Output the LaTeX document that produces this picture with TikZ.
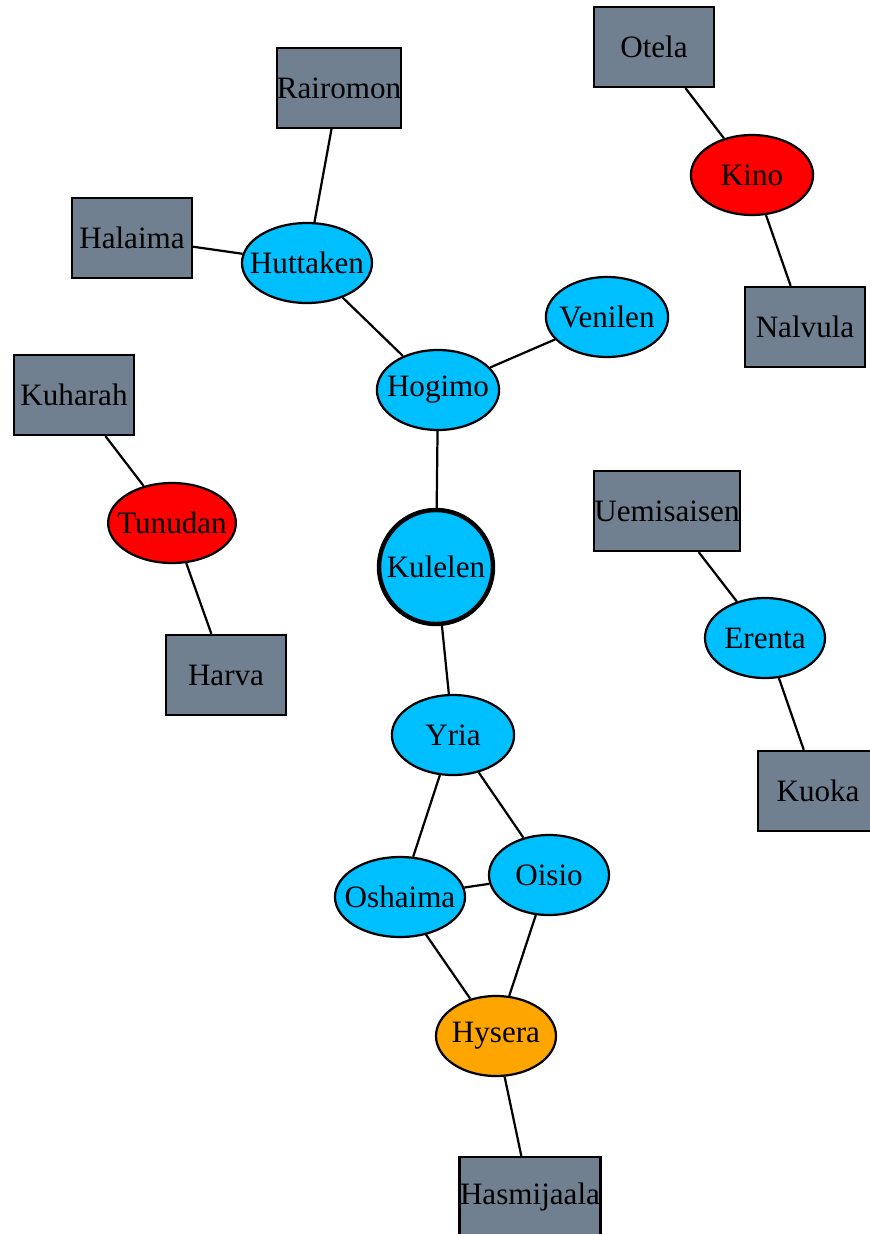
\documentclass[tikz,border=0pt]{standalone}
\usepackage{fontspec}
\setmainfont{Liberation Serif}
\usetikzlibrary{shapes.geometric}
\definecolor{boxgray}{HTML}{708090}
\definecolor{skyfill}{HTML}{00BFFF}
\definecolor{orangefill}{HTML}{FFA500}
% labels are set in a zero-width box so the given sizes fix the outlines
\newcommand{\lbl}[1]{\makebox[0pt]{#1}}
\tikzset{
  base/.style={draw=black, line width=1pt, inner sep=0pt, font=\fontsize{14}{16}\selectfont},
  boxnode/.style={base, rectangle, fill=boxgray, minimum width=54pt, minimum height=36pt},
  ellnode/.style={base, ellipse, fill=skyfill, minimum width=55pt, minimum height=36pt},
  rednode/.style={ellnode, fill=red},
  orangenode/.style={ellnode, fill=orangefill},
  link/.style={draw=black, line width=1pt},
}
\begin{document}
\begin{tikzpicture}[x=0.45pt, y=-0.45pt]
\useasboundingbox (0,0) rectangle (870,1234);
\clip (0,0) rectangle (870,1234);
\fill[white] (0,0) rectangle (870,1234);

% right-top cluster
\node[boxnode] (otela) at (654,47) {Otela};
\node[rednode] (kino) at (752,175) {\lbl{Kino}};
\node[boxnode] (nalvula) at (805,327) {Nalvula};

% upper tree
\node[boxnode, minimum width=56pt] (rairomon) at (339,88) {Rairomon};
\node[boxnode] (halaima) at (132,238) {Halaima};
\node[ellnode, minimum width=58.5pt] (huttaken) at (307,263) {\lbl{Huttaken}};
\node[ellnode] (venilen) at (607,317) {\lbl{Venilen}};
\node[ellnode] (hogimo) at (438,390) {\lbl{Hogimo}};

% left cluster
\node[boxnode] (kuharah) at (74,395) {Kuharah};
\node[rednode, minimum width=57.5pt] (tunudan) at (172,523) {\lbl{Tunudan}};
\node[boxnode] (harva) at (226,675) {Harva};

% centre
\node[ellnode, circle, line width=2pt, minimum size=51.3pt] (kulelen) at (436,567) {\lbl{Kulelen}};

% right-middle cluster
\node[boxnode, minimum width=65.7pt] (uemisaisen) at (667,511) {Uemisaisen};
\node[ellnode, minimum width=54pt] (erenta) at (765,638) {\lbl{Erenta}};
\node[boxnode] (kuoka) at (818,791) {Kuoka};

% lower part
\node[ellnode] (yria) at (453,735) {\lbl{Yria}};
\node[ellnode, minimum width=58.5pt] (oshaima) at (400,897) {\lbl{Oshaima}};
\node[ellnode, minimum width=54pt] (oisio) at (549,875) {\lbl{Oisio}};
\node[orangenode, minimum width=54pt] (hysera) at (496,1036) {\lbl{Hysera}};
\node[boxnode, minimum width=63.5pt] (hasmijaala) at (530,1197) {Hasmijaala};

% connectors
\draw[link] (otela) -- (kino);
\draw[link] (kino) -- (nalvula);
\draw[link] (rairomon) -- (huttaken);
\draw[link] (halaima) -- (huttaken);
\draw[link] (huttaken) -- (hogimo);
\draw[link] (venilen) -- (hogimo);
\draw[link] (hogimo) -- (kulelen);
\draw[link] (kuharah) -- (tunudan);
\draw[link] (tunudan) -- (harva);
\draw[link] (kulelen) -- (yria);
\draw[link] (uemisaisen) -- (erenta);
\draw[link] (erenta) -- (kuoka);
\draw[link] (yria) -- (oshaima);
\draw[link] (yria) -- (oisio);
\draw[link] (oshaima) -- (oisio);
\draw[link] (oshaima) -- (hysera);
\draw[link] (oisio) -- (hysera);
\draw[link] (hysera) -- (hasmijaala);
\end{tikzpicture}
\end{document}
